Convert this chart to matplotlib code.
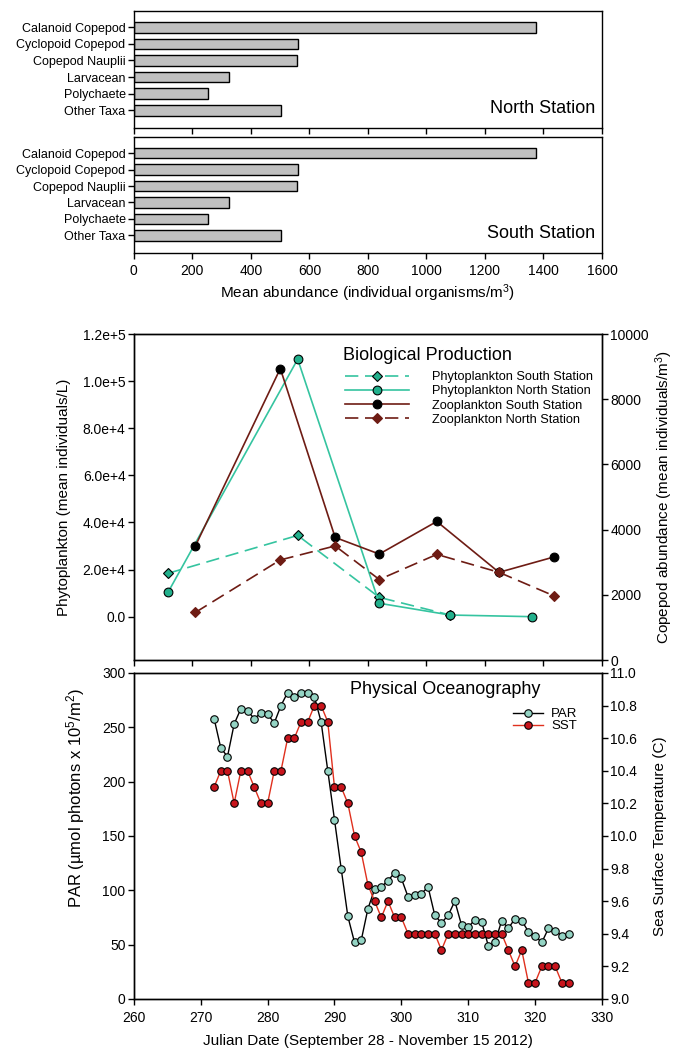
import matplotlib
matplotlib.use('Agg')
import matplotlib.pyplot as plt
from matplotlib.ticker import FixedLocator, FuncFormatter
import numpy as np

plt.rcParams['font.family'] = ['Liberation Sans', 'DejaVu Sans']
plt.rcParams['mathtext.fontset'] = 'custom'
plt.rcParams['mathtext.rm'] = 'Liberation Sans'
plt.rcParams['mathtext.it'] = 'Liberation Sans:italic'

# --- zooplankton composition (bars) ---
taxa = ['Calanoid Copepod', 'Cyclopoid Copepod', 'Copepod Nauplii',
        'Larvacean', 'Polychaete', 'Other Taxa']
north_abund = [1375, 562, 556, 324, 253, 504]
south_abund = [1375, 562, 556, 324, 253, 504]

# --- biological production ---
phyto_south_day = [265.1, 284.5, 296.7, 307.3]
phyto_south = [18400, 34500, 8200, 700]
phyto_north_day = [265.1, 284.5, 296.7, 307.3, 319.6]
phyto_north = [10300, 109300, 5700, 700, 0]
zoo_day = [269.2, 281.9, 290.1, 296.7, 305.3, 314.6, 322.8]
zoo_south = [3500, 8940, 3760, 3250, 4250, 2690, 3160]
zoo_north = [1460, 3070, 3500, 2470, 3240, 2690, 1970]

# --- physical oceanography (daily) ---
julian_day = list(range(272, 326))
par = [258, 231, 223, 253, 267, 265, 258, 263, 262, 254,
       270, 282, 278, 282, 282, 278, 255, 210, 165, 120,
       76, 52, 54, 83, 101, 103, 109, 116, 111, 94,
       96, 97, 103, 77, 70, 77, 90, 68, 66, 73,
       71, 49, 52, 72, 65, 74, 72, 62, 58, 52,
       65, 63, 58, 60]
sst = [10.3, 10.4, 10.4, 10.2, 10.4, 10.4, 10.3, 10.2, 10.2, 10.4,
       10.4, 10.6, 10.6, 10.7, 10.7, 10.8, 10.8, 10.7, 10.3, 10.3,
       10.2, 10.0, 9.9, 9.7, 9.6, 9.5, 9.6, 9.5, 9.5, 9.4,
       9.4, 9.4, 9.4, 9.4, 9.3, 9.4, 9.4, 9.4, 9.4, 9.4,
       9.4, 9.4, 9.4, 9.4, 9.3, 9.2, 9.3, 9.1, 9.1, 9.2,
       9.2, 9.2, 9.1, 9.1]

TEAL = '#22b08c'
TEAL_LINE = '#35c4a0'
DKRED = '#6e1c14'

fig = plt.figure(figsize=(6.76, 10.51), dpi=100)
L, W = 0.198, 0.6925


def style(ax, fs=10):
    for s in ax.spines.values():
        s.set_linewidth(1.0)
    ax.tick_params(direction='out', length=4, width=1, labelsize=fs, pad=2)


# bar panels
ax_n = fig.add_axes([L, 0.8782, W, 0.1113])
ax_s = fig.add_axes([L, 0.7593, W, 0.1103])
ypos = np.arange(len(taxa))
for ax, vals, name in [(ax_n, north_abund, 'North Station'),
                       (ax_s, south_abund, 'South Station')]:
    ax.barh(ypos, vals, height=0.64, color='#c0c0c0', edgecolor='black', linewidth=1)
    ax.set_yticks(ypos)
    ax.set_yticklabels(taxa)
    ax.set_ylim(6.07, -0.98)
    ax.set_xlim(0, 1600)
    ax.set_xticks(np.arange(0, 1601, 200))
    style(ax)
    ax.tick_params(axis='y', labelsize=9)
    ax.text(0.985, 0.17, name, transform=ax.transAxes, ha='right', va='center', fontsize=13)
ax_n.set_xticklabels([])
ax_s.tick_params(axis='x', pad=4)
ax_s.set_xlabel('Mean abundance (individual organisms/m$^3$)', fontsize=11, labelpad=3)

# middle panel
ax_m = fig.add_axes([L, 0.372, W, 0.3102])
ax_m.plot(phyto_south_day, phyto_south, color=TEAL_LINE, lw=1.2, ls=(0, (8, 4)),
          marker='D', ms=5.5, mfc=TEAL, mec='black', mew=0.8,
          label='Phytoplankton South Station')
ax_m.plot(phyto_north_day, phyto_north, color=TEAL_LINE, lw=1.2,
          marker='o', ms=6.3, mfc=TEAL, mec='black', mew=0.8,
          label='Phytoplankton North Station')
ax_m.set_xlim(260, 330)
ax_m.set_xticks(np.linspace(260, 330, 9))
ax_m.set_xticklabels([])
ax_m.set_ylim(-18400, 120000)
ax_m.yaxis.set_major_locator(FixedLocator(np.arange(0, 120001, 20000)))


def sci(v, pos):
    if v == 0:
        return '0.0'
    e = int(np.floor(np.log10(abs(v))))
    return '%.1fe+%d' % (v / 10 ** e, e)


ax_m.yaxis.set_major_formatter(FuncFormatter(sci))
ax_m.set_ylabel('Phytoplankton (mean individuals/L)', fontsize=11)
ax_m.yaxis.set_label_coords(-0.135, 0.5)
style(ax_m)

ax_m2 = ax_m.twinx()
ax_m2.plot(zoo_day, zoo_south, color=DKRED, lw=1.2,
           marker='o', ms=6.3, mfc='black', mec='black', mew=0.8,
           label='Zooplankton South Station')
ax_m2.plot(zoo_day, zoo_north, color=DKRED, lw=1.2, ls=(0, (8, 4)),
           marker='D', ms=5.5, mfc=DKRED, mec=DKRED, mew=0.8,
           label='Zooplankton North Station')
ax_m2.set_ylim(0, 10000)
ax_m2.set_yticks(np.arange(0, 10001, 2000))
ax_m2.set_ylabel('Copepod abundance (mean individuals/m$^3$)', fontsize=11)
ax_m2.yaxis.set_label_coords(1.11, 0.5)
style(ax_m2)

ax_m.text(0.4466, 0.9356, 'Biological Production', transform=ax_m.transAxes,
          ha='left', va='center', fontsize=13)
h1, l1 = ax_m.get_legend_handles_labels()
h2, l2 = ax_m2.get_legend_handles_labels()
ax_m2.legend(h1 + h2, l1 + l2, loc='upper left', bbox_to_anchor=(345 / 676, 1 - 371 / 1051),
             bbox_transform=fig.transFigure, frameon=False, fontsize=9.2,
             handlelength=5.0, handletextpad=1.8, labelspacing=0.18,
             borderpad=0, borderaxespad=0)

# bottom panel
ax_b = fig.add_axes([L, 0.0495, W, 0.3102])
ax_b.plot(julian_day, par, color='black', lw=1.0,
          marker='o', ms=5.4, mfc='#94d4c4', mec='black', mew=0.8, label='PAR')
ax_b.set_xlim(260, 330)
ax_b.set_xticks(np.arange(260, 331, 10))
ax_b.set_ylim(0, 300)
ax_b.set_yticks(np.arange(0, 301, 50))
ax_b.set_ylabel('PAR (µmol photons x 10$^5$/m$^2$)', fontsize=12)
ax_b.yaxis.set_label_coords(-0.10, 0.617)
style(ax_b)
ax_b.tick_params(axis='x', pad=5)
ax_b.set_xlabel('Julian Date (September 28 - November 15 2012)', fontsize=11, labelpad=6)

ax_b2 = ax_b.twinx()
ax_b2.plot(julian_day, sst, color='#e0301e', lw=1.0,
           marker='o', ms=5.4, mfc='#c8141c', mec='black', mew=0.8, label='SST')
ax_b2.set_ylim(9.0, 11.0)
ax_b2.set_yticks(np.arange(9.0, 11.01, 0.2))
ax_b2.yaxis.set_major_formatter(FuncFormatter(lambda v, p: '%.1f' % v))
ax_b2.set_ylabel('Sea Surface Temperature (C)', fontsize=11)
ax_b2.yaxis.set_label_coords(1.11, 0.5)
style(ax_b2)

ax_b.text(0.666, 0.948, 'Physical Oceanography', transform=ax_b.transAxes,
          ha='center', va='center', fontsize=13)
hb1, lb1 = ax_b.get_legend_handles_labels()
hb2, lb2 = ax_b2.get_legend_handles_labels()
ax_b2.legend(hb1 + hb2, lb1 + lb2, loc='upper left', bbox_to_anchor=(513 / 676, 1 - 708 / 1051),
             bbox_transform=fig.transFigure, frameon=False, fontsize=9.5,
             handlelength=2.3, handletextpad=0.6, labelspacing=0.0,
             borderpad=0, borderaxespad=0)

fig.savefig('out.png', dpi=100)
plt.close(fig)
